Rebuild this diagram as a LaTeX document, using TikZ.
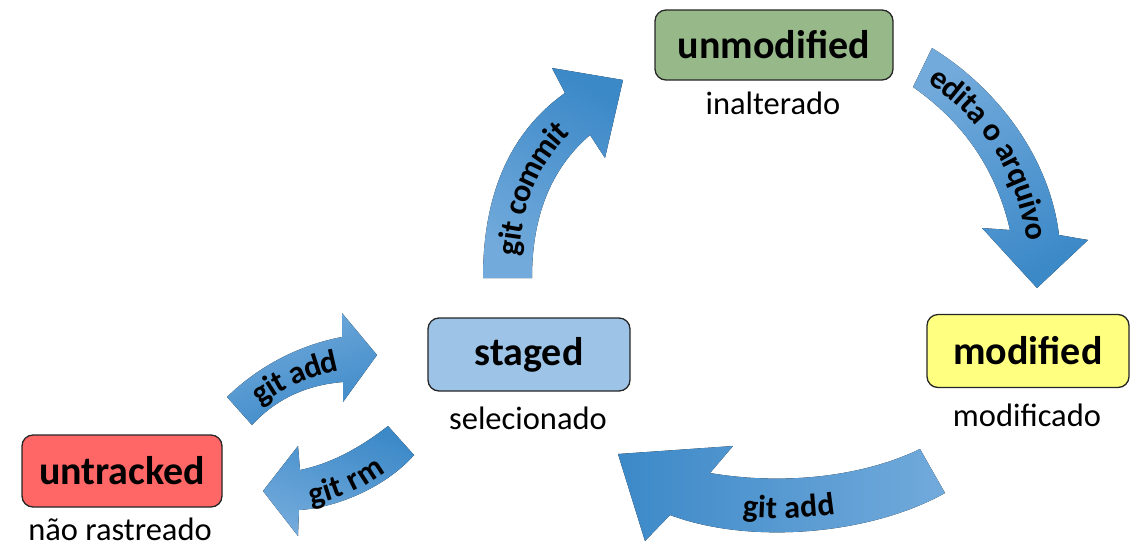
\documentclass[tikz,border=0pt]{standalone}
\usepackage{fontspec}
\setmainfont{Carlito}
\usetikzlibrary{decorations.text}
\definecolor{cgreen}{HTML}{97B98A}
\definecolor{cyellow}{HTML}{FFFF80}
\definecolor{cblue}{HTML}{9DC3E6}
\definecolor{cred}{HTML}{FF6666}
\definecolor{alight}{HTML}{72AADB}
\definecolor{adark}{HTML}{3C89C8}
\tikzset{
  statebox/.style={draw=black!85, line width=1.3pt, rounded corners=11pt, inner sep=0pt,
    minimum width=202pt, minimum height=73pt, font=\fontsize{40}{40}\selectfont\bfseries},
  sublabel/.style={inner sep=0pt, font=\fontsize{32.5}{32.5}\selectfont},
  arrowtext/.style={decorate, decoration={text along path, text align=center, raise=-10pt,
    text={|\fontsize{32}{32}\selectfont\bfseries|#1}}}
}
\begin{document}
\begin{tikzpicture}[x=1pt,y=-1pt]
\useasboundingbox (0,0) rectangle (1132,550);

% state boxes
\node[statebox, fill=cgreen, minimum width=238pt, minimum height=70pt] (unmod) at (774,45) {unmodified};
\node[statebox, fill=cyellow] (mod) at (1028,351) {modified};
\node[statebox, fill=cblue] (staged) at (529,354.5) {staged};
\node[statebox, fill=cred, minimum width=200pt, minimum height=72pt] (untr) at (122,471) {untracked};

\node[sublabel] (unmodl) at (773,103) {inalterado};
\node[sublabel] (modl) at (1027,415) {modificado};
\node[sublabel] (stagedl) at (528,418) {selecionado};
\node[sublabel] (untrl) at (120,529) {não rastreado};

% git commit arrow
\fill[bottom color=alight, top color=adark, shading angle=-30]
  (483,278) .. controls (483,180) and (520,125) .. (565,93) -- (552,68) -- (623,80) -- (605,158) -- (590,135)
  .. controls (555,165) and (532,210) .. (532,278) -- cycle;
\path[arrowtext={git commit}] (508,282) .. controls (508,190) and (540,140) .. (584,110);

% edita o arquivo arrow
\fill[top color=alight, bottom color=adark, shading angle=30]
  (932,48) .. controls (1000,90) and (1050,160) .. (1059,235) -- (1088,240) -- (1037,288) -- (982,228) -- (1010,230)
  .. controls (995,165) and (960,120) .. (913,87) -- cycle;
\path[arrowtext={edita o arquivo}] (922,68) .. controls (985,105) and (1030,165) .. (1038,252);

% bottom git add arrow
\fill[left color=adark, right color=alight]
  (920,449) .. controls (860,478) and (780,485) .. (710,473) -- (733,446) -- (618,454) -- (645,541) -- (670,515)
  .. controls (750,545) and (870,535) .. (945,493) -- cycle;
\path[arrowtext={git add}] (660,488) .. controls (735,518) and (850,515) .. (915,478);

% small git add arrow
\fill[left color=alight, right color=adark, shading angle=20]
  (227,397) .. controls (260,365) and (300,345) .. (342,337) -- (342,313) -- (377,355) -- (343,402) -- (343,382)
  .. controls (305,385) and (275,400) .. (252,425) -- cycle;
\path[arrowtext={git add}] (240,410) .. controls (272,381) and (308,363) .. (356,358);

% git rm arrow
\fill[top color=adark, bottom color=alight, shading angle=-20]
  (388,426) .. controls (360,448) and (330,464) .. (300,470) -- (298,446) -- (263,491) -- (298,536) -- (299,510)
  .. controls (335,508) and (385,488) .. (414,455) -- cycle;
\path[arrowtext={git rm}] (280,499) .. controls (325,497) and (372,478) .. (401,443);
\end{tikzpicture}
\end{document}
